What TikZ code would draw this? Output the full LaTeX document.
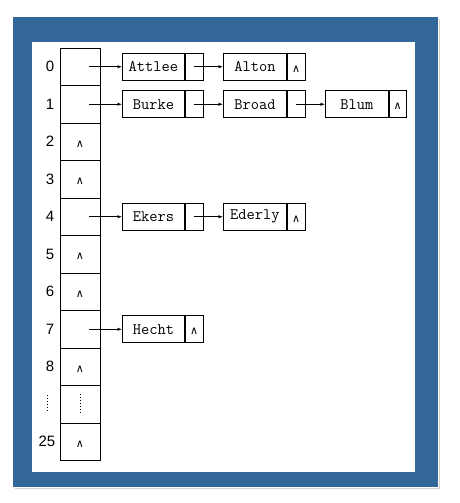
\documentclass[tikz,border=0pt]{standalone}
\usepackage{fontspec}
\setmainfont{Liberation Sans}
\newfontfamily\symf{DejaVu Sans}
\usetikzlibrary{arrows.meta}
\definecolor{frameblue}{RGB}{51,102,153}
\begin{document}
\begin{tikzpicture}[x=1pt,y=-1pt,
  cell/.style={draw,line width=0.8pt,minimum width=40pt,minimum height=37.5pt,inner sep=0pt},
  namebox/.style={draw,line width=0.8pt,minimum width=62pt,minimum height=27pt,inner sep=0pt,anchor=west,
    font=\ttfamily\fontsize{16}{16}\selectfont},
  ptrbox/.style={draw,line width=0.8pt,minimum width=18pt,minimum height=27pt,inner sep=0pt,anchor=west},
  caret/.style={inner sep=0pt,anchor=base,yshift=-5.5pt,font=\symf\fontsize{11}{11}\selectfont},
  lab/.style={inner sep=0pt,font=\fontsize{15}{15}\selectfont},
  arr/.style={line width=0.8pt,-{Latex[length=4.5pt,width=3.5pt]}}]
\useasboundingbox (0,0) rectangle (459,503);
% frame
\draw[gray!35,line width=1pt] (439,19) -- (439,488.5) -- (15,488.5);
\fill[frameblue] (13,17) rectangle (438,487);
\fill[white] (32,42) rectangle (415,472);
% array cells
\foreach \n/\r in {0/0,1/1,2/2,3/3,4/4,5/5,6/6,7/7,8/8,d/9,25/10}{
  \node[cell] (c\n) at (80,66.75+37.5*\r) {};
}
% row labels
\foreach \n/\r in {0/0,1/1,2/2,3/3,4/4,5/5,6/6,7/7,8/8}{
  \node[lab] (l\n) at (50,66.75+37.5*\r) {\n};
}
\node[lab] (l25) at (47,441.75) {25};
\draw[dotted,line width=1pt] (47,395) -- (47,413);
\draw[dotted,line width=1pt] ([yshift=10pt]cd.center) -- ([yshift=-10pt]cd.center);
% nil carets in array
\foreach \n in {2,3,5,6,8,25}{
  \node[caret] (nil\n) at (c\n.center) {∧};
}
% row 0
\node[namebox] (attlee) at (122,66.75) {Attlee};
\node[ptrbox] (attleep) at (attlee.east) {};
\node[namebox,minimum width=63pt] (alton) at (223,66.75) {Alton};
\node[ptrbox] (altonp) at (alton.east) {};
\node[caret] (altonnil) at (altonp.center) {∧};
\draw[arr] ([xshift=9pt]c0.center) -- (attlee.west);
\draw[arr] (attleep.center) -- (alton.west);
% row 1
\node[namebox] (burke) at (122,104.25) {Burke};
\node[ptrbox] (burkep) at (burke.east) {};
\node[namebox,minimum width=63pt] (broad) at (223,104.25) {Broad};
\node[ptrbox] (broadp) at (broad.east) {};
\node[namebox,minimum width=63pt] (blum) at (325,104.25) {Blum};
\node[ptrbox,minimum width=17pt] (blump) at (blum.east) {};
\node[caret] (blumnil) at (blump.center) {∧};
\draw[arr] ([xshift=9pt]c1.center) -- (burke.west);
\draw[arr] (burkep.center) -- (broad.west);
\draw[arr] (broadp.center) -- (blum.west);
% row 4
\node[namebox] (ekers) at (122,216.75) {Ekers};
\node[ptrbox] (ekersp) at (ekers.east) {};
\node[namebox,minimum width=63pt] (ederly) at (223,216.75) {Ederly};
\node[ptrbox] (ederlyp) at (ederly.east) {};
\node[caret] (ederlynil) at (ederlyp.center) {∧};
\draw[arr] ([xshift=9pt]c4.center) -- (ekers.west);
\draw[arr] (ekersp.center) -- (ederly.west);
% row 7
\node[namebox] (hecht) at (122,329.25) {Hecht};
\node[ptrbox] (hechtp) at (hecht.east) {};
\node[caret] (hechtnil) at (hechtp.center) {∧};
\draw[arr] ([xshift=9pt]c7.center) -- (hecht.west);
\end{tikzpicture}
\end{document}
